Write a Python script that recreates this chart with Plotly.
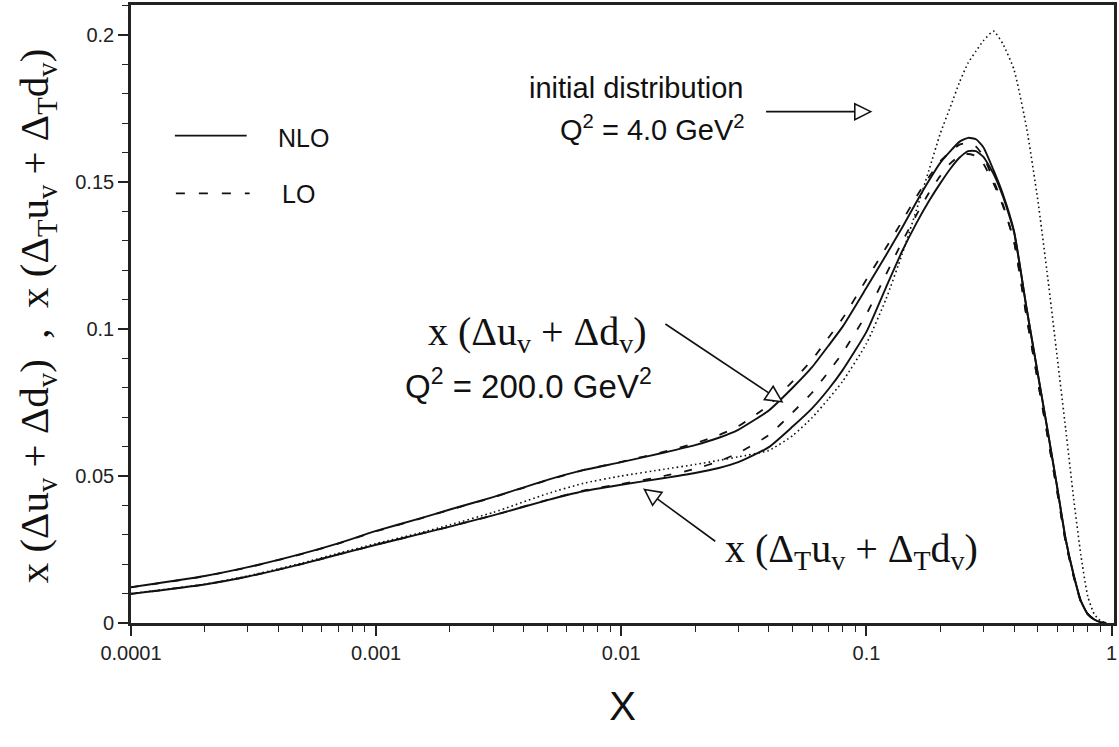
import math
import plotly.graph_objects as go

# ---------------- data ----------------
x_grid = [1e-4, 2e-4, 3e-4, 5e-4, 7e-4,
          1e-3, 1.5e-3, 2e-3, 3e-3, 5e-3, 7e-3,
          0.01, 0.015, 0.02, 0.025, 0.03, 0.04, 0.05, 0.06, 0.07, 0.08,
          0.1, 0.12, 0.14, 0.16, 0.18, 0.2, 0.22, 0.24, 0.26, 0.28,
          0.3, 0.33, 0.36, 0.4, 0.45,
          0.5, 0.55, 0.6, 0.65, 0.7, 0.75, 0.8, 0.85, 0.9, 0.95]

# NLO  x(Δu_v + Δd_v), Q^2 = 200 GeV^2
y_hel_nlo = [0.0122, 0.0160, 0.0190, 0.0236, 0.0271,
             0.0313, 0.0355, 0.0386, 0.0428, 0.0487, 0.0520,
             0.0547, 0.0580, 0.0605, 0.0630, 0.0657, 0.0723, 0.0800, 0.0870, 0.0943, 0.1008,
             0.1140, 0.1250, 0.1345, 0.1432, 0.1505, 0.1565, 0.1605, 0.1637, 0.1650, 0.1645,
             0.1618, 0.1540, 0.1460, 0.1333, 0.1072,
             0.0850, 0.0650, 0.0463, 0.0285, 0.0165, 0.0075, 0.0030, 0.0012, 0.0003, 0.0]

# LO   x(Δu_v + Δd_v)
y_hel_lo = [0.0121, 0.0159, 0.0189, 0.0235, 0.0270,
            0.0312, 0.0354, 0.0385, 0.0427, 0.0486, 0.0520,
            0.0548, 0.0583, 0.0611, 0.0639, 0.0669, 0.0741, 0.0822, 0.0895, 0.0970, 0.1036,
            0.1168, 0.1275, 0.1367, 0.1450, 0.1517, 0.1570, 0.1603, 0.1627, 0.1632, 0.1620,
            0.1588, 0.1505, 0.1425, 0.1298, 0.1042,
            0.0825, 0.0630, 0.0448, 0.0275, 0.0159, 0.0072, 0.0030, 0.0012, 0.0003, 0.0]

# NLO  x(Δ_T u_v + Δ_T d_v)
y_tr_nlo = [0.0099, 0.0131, 0.0158, 0.0201, 0.0233,
            0.0266, 0.0302, 0.0328, 0.0366, 0.0418, 0.0448,
            0.0470, 0.0493, 0.0510, 0.0527, 0.0547, 0.0598, 0.0668, 0.0730, 0.0795, 0.0860,
            0.0990, 0.1140, 0.1265, 0.1360, 0.1435, 0.1495, 0.1545, 0.1583, 0.1605, 0.1605,
            0.1585, 0.1528, 0.1452, 0.1330, 0.1070,
            0.0848, 0.0648, 0.0461, 0.0284, 0.0164, 0.0074, 0.0030, 0.0012, 0.0003, 0.0]

# LO   x(Δ_T u_v + Δ_T d_v)
y_tr_lo = [0.0099, 0.0131, 0.0158, 0.0201, 0.0233,
           0.0266, 0.0302, 0.0328, 0.0366, 0.0419, 0.0450,
           0.0473, 0.0500, 0.0524, 0.0550, 0.0578, 0.0639, 0.0716, 0.0783, 0.0854, 0.0919,
           0.1050, 0.1184, 0.1297, 0.1388, 0.1463, 0.1520, 0.1563, 0.1588, 0.1595, 0.1588,
           0.1562, 0.1495, 0.1420, 0.1298, 0.1042,
           0.0824, 0.0629, 0.0447, 0.0275, 0.0159, 0.0072, 0.0030, 0.0012, 0.0003, 0.0]

# initial distribution, Q^2 = 4 GeV^2
y_init = [0.0100, 0.0132, 0.0160, 0.0204, 0.0237,
          0.0270, 0.0306, 0.0334, 0.0376, 0.0440, 0.0475,
          0.0500, 0.0523, 0.0539, 0.0553, 0.0565, 0.0587, 0.0637, 0.0698, 0.0762, 0.0822,
          0.0950, 0.1100, 0.1255, 0.1405, 0.1540, 0.1664, 0.1755, 0.1840, 0.1905, 0.1945,
          0.1980, 0.2013, 0.1970, 0.1882, 0.1685,
          0.1440, 0.1170, 0.0905, 0.0660, 0.0425, 0.0230, 0.0090, 0.0030, 0.0008, 0.0]

x_tickvals = [1e-4, 1e-3, 1e-2, 1e-1, 1]
x_ticktext = ["0.0001", "0.001", "0.01", "0.1", "1"]
y_tickvals = [0, 0.05, 0.1, 0.15, 0.2]
y_ticktext = ["0", "0.05", "0.1", "0.15", "0.2"]

# ---------------- layout geometry ----------------
W_PAGE, H_PAGE = 1119, 747
L, R, T, B = 131, 2, 3, 124
PW = W_PAGE - L - R
PH = H_PAGE - T - B


def px(xp):
    return (xp - L) / PW


def py(yp):
    return (T + PH - yp) / PH


INK = "#111111"
SANS = "Liberation Sans, Arial, sans-serif"
SERIF = "Liberation Serif, Times New Roman, serif"

fig = go.Figure()


def add_curve(x, y, dash, width, name):
    fig.add_trace(go.Scatter(
        x=x, y=y, mode="lines", name=name, showlegend=False, hoverinfo="skip",
        line=dict(color=INK, width=width, dash=dash, shape="spline", smoothing=0.5)))


add_curve(x_grid, y_init, "1.6px,3px", 1.6, "initial Q2=4")
add_curve(x_grid, y_hel_lo, "8px,13px", 1.8, "LO helicity")
add_curve(x_grid, y_tr_lo, "8px,13px", 1.8, "LO transversity")
add_curve(x_grid, y_hel_nlo, "solid", 1.9, "NLO helicity")
add_curve(x_grid, y_tr_nlo, "solid", 1.9, "NLO transversity")

shapes = []
annotations = []


def arrow(tail, tip, hl=16.0, hw=8.0):
    (x0, y0), (x1, y1) = tail, tip
    dx, dy = x1 - x0, y1 - y0
    d = math.hypot(dx, dy)
    ux, uy = dx / d, dy / d
    bx, by = x1 - ux * hl, y1 - uy * hl
    nx, ny = -uy, ux
    p1 = (bx + nx * hw, by + ny * hw)
    p2 = (bx - nx * hw, by - ny * hw)
    shapes.append(dict(type="line", xref="paper", yref="paper",
                       x0=px(x0), y0=py(y0), x1=px(bx), y1=py(by),
                       line=dict(color=INK, width=1.6), layer="above"))
    path = "M {:.5f} {:.5f} L {:.5f} {:.5f} L {:.5f} {:.5f} Z".format(
        px(x1), py(y1), px(p1[0]), py(p1[1]), px(p2[0]), py(p2[1]))
    shapes.append(dict(type="path", xref="paper", yref="paper", path=path,
                       fillcolor="white", line=dict(color=INK, width=1.6), layer="above"))


arrow((768, 110), (873, 110))
arrow((667, 323), (784, 401))
arrow((717, 541), (646, 489))


def text(t, x, y, size, family, xanchor="left"):
    annotations.append(dict(text=t, xref="paper", yref="paper", x=px(x), y=py(y),
                            xanchor=xanchor, yanchor="middle", showarrow=False,
                            font=dict(size=size, family=family, color=INK)))


text("initial distribution", 747, 86, 29, SANS, "right")
text("Q<sup>2</sup> = 4.0 GeV<sup>2</sup>", 749, 126, 29, SANS, "right")
text("x (Δu<sub>v</sub> + Δd<sub>v</sub>)", 427, 333, 40, SERIF)
text("Q<sup>2</sup> = 200.0 GeV<sup>2</sup>", 404, 383, 33, SANS)
text("x (Δ<sub>T</sub>u<sub>v</sub> + Δ<sub>T</sub>d<sub>v</sub>)", 725, 551, 40, SERIF)

# legend drawn by hand (long line samples as in the reference)
shapes.append(dict(type="line", xref="paper", yref="paper", x0=px(175), x1=px(247),
                   y0=py(134), y1=py(134), line=dict(color=INK, width=1.6)))
shapes.append(dict(type="line", xref="paper", yref="paper", x0=px(176), x1=px(250),
                   y0=py(192), y1=py(192), line=dict(color=INK, width=1.6, dash="9px,14px")))
text("NLO", 276, 136, 25, SANS)
text("LO", 280, 193, 25, SANS)

# y-axis title
annotations.append(dict(
    text="x (Δu<sub>v</sub> + Δd<sub>v</sub>)\u00a0\u00a0,\u00a0\u00a0x (Δ<sub>T</sub>u<sub>v</sub> + Δ<sub>T</sub>d<sub>v</sub>)",
    xref="paper", yref="paper", x=px(37), y=py(315), xanchor="center", yanchor="middle",
    textangle=-90, showarrow=False, font=dict(size=41, family=SERIF, color=INK)))

fig.update_layout(
    width=W_PAGE, height=H_PAGE,
    margin=dict(l=L, r=R, t=T, b=B),
    paper_bgcolor="white", plot_bgcolor="white",
    showlegend=False,
    shapes=shapes, annotations=annotations,
    xaxis=dict(type="log", range=[-4, 0.01], tickmode="array",
               tickvals=x_tickvals, ticktext=x_ticktext,
               ticks="outside", ticklen=10, tickwidth=1.5, tickcolor="#222",
               minor=dict(ticks="outside", ticklen=6, tickwidth=1.2, tickcolor="#222",
                          tickvals=[k * 10.0 ** e for e in range(-4, 0) for k in range(2, 10)]),
               showline=True, linewidth=2.6, linecolor="#222", mirror=True,
               showgrid=False, zeroline=False,
               tickfont=dict(size=20, family=SANS, color="#222"),
               title=dict(text="X", font=dict(size=40, family=SANS, color=INK), standoff=30)),
    yaxis=dict(range=[0, 0.21017], tickmode="array",
               tickvals=y_tickvals, ticktext=y_ticktext,
               ticks="outside", ticklen=10, tickwidth=1.5, tickcolor="#222",
               minor=dict(ticks="outside", ticklen=6, tickwidth=1.2, tickcolor="#222",
                          tick0=0, dtick=0.01),
               showline=True, linewidth=2.6, linecolor="#222", mirror=True,
               showgrid=False, zeroline=False,
               tickfont=dict(size=20, family=SANS, color="#222")),
)

fig.write_html("out.html")
